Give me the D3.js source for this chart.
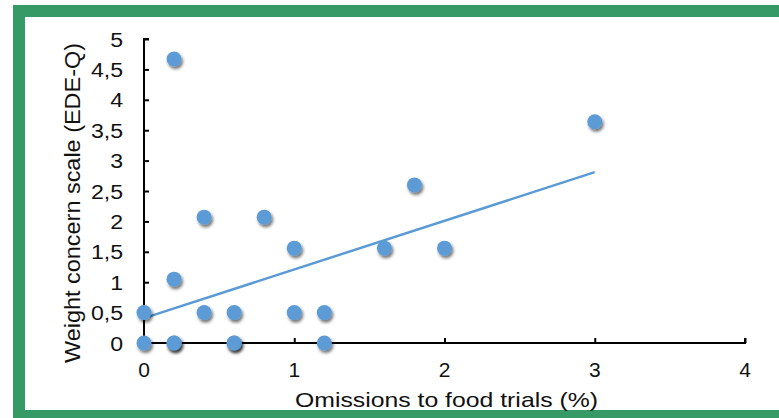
<!DOCTYPE html>
<html>
<head>
<meta charset="utf-8">
<script src="https://cdn.jsdelivr.net/npm/d3@7"></script>
<style>
  body { margin: 0; background: #fff; }
  svg { display: block; font-family: "Liberation Sans", Arial, sans-serif; }
</style>
</head>
<body>
<div id="chart"></div>
<script>
// omissions to food trials (%) and weight concern score, one entry per subject
const omissions = [0.2, 3, 1.8, 0.4, 0.8, 1, 1.6, 2, 0.2, 0, 0.4, 0.6, 1, 1.2, 0, 0.2, 0.2, 0.6, 0.6, 1.2];
const weightConcern = [4.67, 3.64, 2.6, 2.07, 2.07, 1.56, 1.56, 1.56, 1.05, 0.5, 0.5, 0.5, 0.5, 0.5, 0, 0, 0, 0, 0, 0];
// linear trend line end points [x, y]
const trendLine = [[0, 0.41], [3, 2.81]];
const xTicks = [0, 1, 2, 3, 4];
const yTicks = [0, 0.5, 1, 1.5, 2, 2.5, 3, 3.5, 4, 4.5, 5];

const width = 779, height = 418;
const margin = {top: 39, right: 34, bottom: 75, left: 144};

const svg = d3.select('#chart').append('svg')
  .attr('width', width)
  .attr('height', height);

// green frame
svg.append('rect')
  .attr('x', 19).attr('y', 11)
  .attr('width', 820).attr('height', 405)
  .attr('fill', 'none')
  .attr('stroke', '#359a66')
  .attr('stroke-width', 12);

const defs = svg.append('defs');
defs.append('filter')
  .attr('id', 'shadow')
  .attr('x', '-50%').attr('y', '-50%')
  .attr('width', '200%').attr('height', '200%')
  .append('feDropShadow')
  .attr('dx', 1.5).attr('dy', 2.5)
  .attr('stdDeviation', 1.8)
  .attr('flood-color', '#000')
  .attr('flood-opacity', 0.55);

const x = d3.scaleLinear().domain([0, 4]).range([margin.left, width - margin.right]);
const y = d3.scaleLinear().domain([0, 5]).range([height - margin.bottom, margin.top]);

const fmt = d => String(d).replace('.', ',');

// y axis
const yAxis = svg.append('g')
  .attr('transform', `translate(${margin.left},0)`)
  .call(d3.axisRight(y).tickValues(yTicks).tickSize(5).tickFormat(''));
yAxis.selectAll('path, line').attr('stroke', '#000').attr('stroke-width', 2);
yAxis.select('.domain').attr('d', `M5,${y(5)}H0V${y(0)}`);

svg.append('g').selectAll('text')
  .data(yTicks)
  .join('text')
  .attr('x', margin.left - 21)
  .attr('y', d => y(d))
  .attr('dy', '0.36em')
  .attr('text-anchor', 'end')
  .attr('font-size', 21)
  .attr('fill', '#111')
  .attr('transform', d => `translate(${margin.left - 21},0) scale(1.1,1) translate(${-(margin.left - 21)},0)`)
  .text(fmt);

// x axis
const xAxis = svg.append('g')
  .attr('transform', `translate(0,${y(0)})`)
  .call(d3.axisTop(x).tickValues(xTicks).tickSize(5).tickFormat(''));
xAxis.selectAll('path, line').attr('stroke', '#000').attr('stroke-width', 2);
xAxis.select('.domain').attr('d', `M${x(0)},0H${x(4)}V-5`);

svg.append('g').selectAll('text')
  .data(xTicks)
  .join('text')
  .attr('x', d => x(d))
  .attr('y', y(0) + 34)
  .attr('text-anchor', 'middle')
  .attr('font-size', 21)
  .attr('fill', '#111')
  .text(d => d);

// axis titles
svg.append('text')
  .attr('x', 295)
  .attr('y', 407)
  .attr('font-size', 21)
  .attr('fill', '#111')
  .attr('textLength', 303)
  .attr('lengthAdjust', 'spacingAndGlyphs')
  .text('Omissions to food trials (%)');

svg.append('text')
  .attr('transform', `translate(80,363) rotate(-90)`)
  .attr('font-size', 22)
  .attr('fill', '#111')
  .attr('textLength', 320)
  .attr('lengthAdjust', 'spacingAndGlyphs')
  .text('Weight concern scale (EDE-Q)');

// trend line
svg.append('line')
  .attr('x1', x(trendLine[0][0])).attr('y1', y(trendLine[0][1]))
  .attr('x2', x(trendLine[1][0])).attr('y2', y(trendLine[1][1]))
  .attr('stroke', '#5b9bd5')
  .attr('stroke-width', 2.5);

// points
const points = omissions.map((d, i) => ({x: d, y: weightConcern[i]}));
svg.append('g').selectAll('circle')
  .data(points)
  .join('circle')
  .attr('cx', d => x(d.x))
  .attr('cy', d => y(d.y))
  .attr('r', 7.5)
  .attr('fill', '#5b9bd5')
  .attr('filter', 'url(#shadow)');
</script>
</body>
</html>
